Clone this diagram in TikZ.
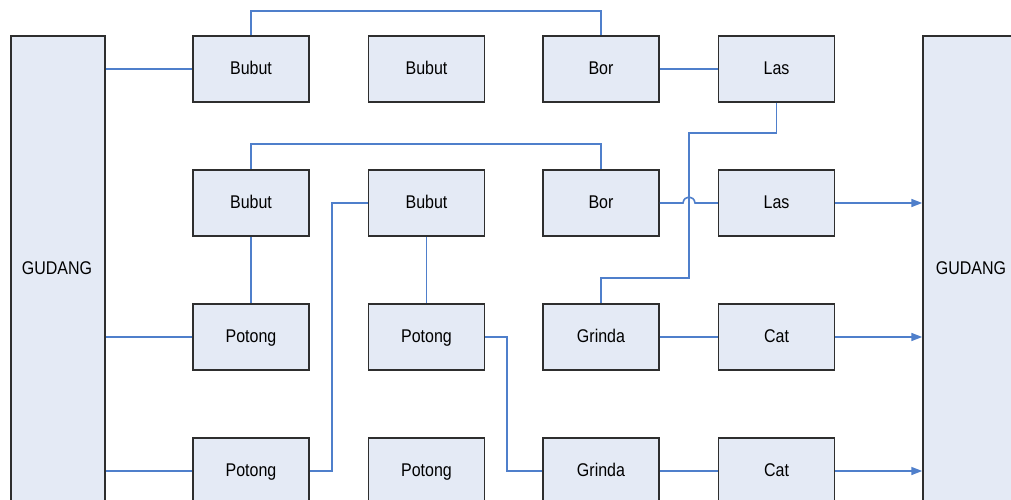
\documentclass[tikz,border=0pt]{standalone}
\usepackage{fontspec}
\setmainfont{Liberation Sans}
\usetikzlibrary{arrows.meta,calc}
\definecolor{boxfill}{HTML}{E4EAF5}
\definecolor{boxline}{HTML}{2E2E2E}
\definecolor{flow}{HTML}{4F7FCB}
% labels: slightly tall, with a fixed height and depth so every label sits alike
\newcommand{\lbl}[1]{\scalebox{1}[1.15]{\rule[-4pt]{0pt}{18.3pt}#1}}
\tikzset{
  proc/.style={draw=boxline, fill=boxfill, line width=1.5pt, minimum width=116pt,
    minimum height=66pt, inner sep=0pt, font=\fontsize{16}{18}\selectfont},
  store/.style={draw=boxline, fill=boxfill, line width=1.5pt, minimum width=94pt,
    minimum height=500pt, inner sep=0pt},
  link/.style={draw=flow, line width=1.6pt},
  feed/.style={link, -{Triangle[length=11pt,width=8pt]}},
}
\begin{document}
\begin{tikzpicture}[x=1pt,y=-1pt]
\useasboundingbox (0,0) rectangle (1011,500);
\clip (0,0) rectangle (1011,500);
\fill[white] (0,0) rectangle (1011,500);

% warehouses
\node[store] (gl) at (58,286) {};
\node[font=\fontsize{16}{18}\selectfont] at (57,269) {\lbl{GUDANG}};
\node[store] (gr) at (970,286) {};
\node[font=\fontsize{16}{18}\selectfont] at (971,269) {\lbl{GUDANG}};

% row 1
\node[proc] (a1) at (251,69) {\lbl{Bubut}};
\node[proc] (a2) at (426.5,69) {\lbl{Bubut}};
\node[proc] (a3) at (601,69) {\lbl{Bor}};
\node[proc] (a4) at (776.5,69) {\lbl{Las}};
% row 2
\node[proc] (b1) at (251,203) {\lbl{Bubut}};
\node[proc] (b2) at (426.5,203) {\lbl{Bubut}};
\node[proc] (b3) at (601,203) {\lbl{Bor}};
\node[proc] (b4) at (776.5,203) {\lbl{Las}};
% row 3
\node[proc] (c1) at (251,337) {\lbl{Potong}};
\node[proc] (c2) at (426.5,337) {\lbl{Potong}};
\node[proc] (c3) at (601,337) {\lbl{Grinda}};
\node[proc] (c4) at (776.5,337) {\lbl{Cat}};
% row 4
\node[proc] (d1) at (251,471) {\lbl{Potong}};
\node[proc] (d2) at (426.5,471) {\lbl{Potong}};
\node[proc] (d3) at (601,471) {\lbl{Grinda}};
\node[proc] (d4) at (776.5,471) {\lbl{Cat}};

% feeds from the left warehouse
\draw[link] (a1.west -| gl.east) -- (a1.west);
\draw[link] (c1.west -| gl.east) -- (c1.west);
\draw[link] (d1.west -| gl.east) -- (d1.west);

% row 1 flow
\draw[link] (a1.north) -- ++(0,-24) -| (a3.north);
\draw[link] (a3.east) -- (a4.west);
\coordinate (jog) at (689,133);
\draw[link] (a4.south) |- (jog) -- (689,278) -| (c3.north);

% row 2 flow, hopping over the Las-Grinda line
\draw[link] (b1.north) -- ++(0,-25) -| (b3.north);
\draw[link] (b3.east) -- (683,203) .. controls (684,195) and (694,195) .. (695,203) -- (b4.west);
\draw[link] (b1.south) -- (c1.north);
\draw[link] (b2.south) -- (c2.north);
\draw[link] (d1.east) -- (332,471) |- (b2.west);
\draw[link] (c2.east) -- (507,337) |- (d3.west);

% rows 3 and 4
\draw[link] (c3.east) -- (c4.west);
\draw[link] (d3.east) -- (d4.west);

% deliveries to the right warehouse
\draw[feed] (b4.east) -- (b4.east -| gr.west);
\draw[feed] (c4.east) -- (c4.east -| gr.west);
\draw[feed] (d4.east) -- (d4.east -| gr.west);
\end{tikzpicture}
\end{document}
